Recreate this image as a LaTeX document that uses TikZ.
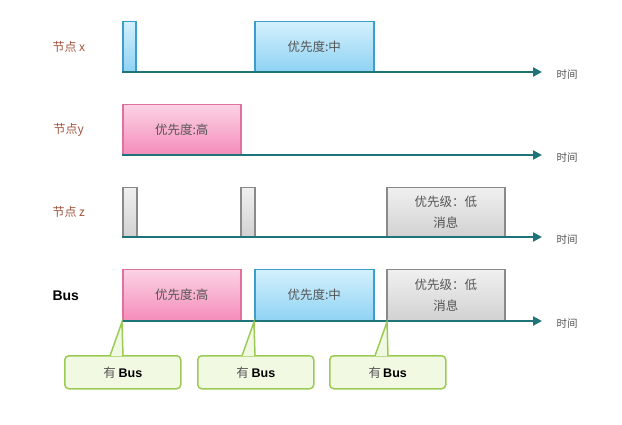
\documentclass[tikz,border=0pt]{standalone}
\usepackage{fontspec}
\setmainfont{Noto Sans CJK SC}
\newfontfamily\latinbold{Liberation Sans}
\usetikzlibrary{arrows.meta}
\definecolor{axisc}{HTML}{1E7478}
\definecolor{blueT}{HTML}{D4F0FC}
\definecolor{blueB}{HTML}{8FD3F4}
\definecolor{blueD}{HTML}{3C9ECB}
\definecolor{pinkT}{HTML}{FBD3E5}
\definecolor{pinkB}{HTML}{F58DBA}
\definecolor{pinkD}{HTML}{E0709E}
\definecolor{grayT}{HTML}{F0F0F0}
\definecolor{grayB}{HTML}{D2D2D2}
\definecolor{grayD}{HTML}{8A8A8A}
\definecolor{callF}{HTML}{F1F9E3}
\definecolor{callD}{HTML}{9CCB55}
\definecolor{labc}{HTML}{A0533E}
\definecolor{txtg}{HTML}{555555}
\begin{document}
\begin{tikzpicture}[x=1pt,y=-1pt,
  box/.style={draw, line width=1.5pt, inner sep=0pt, anchor=south west, align=center,
    font=\fontsize{12.5}{21}\selectfont, text=txtg},
  bluebox/.style={box, top color=blueT, bottom color=blueB, draw=blueD},
  pinkbox/.style={box, top color=pinkT, bottom color=pinkB, draw=pinkD},
  graybox/.style={box, top color=grayT, bottom color=grayB, draw=grayD},
  axisline/.style={draw=axisc, line width=2.4pt, -{Triangle[length=9pt,width=9pt]}},
  timelab/.style={font=\fontsize{10.5}{12}\selectfont, text=txtg},
  rowlab/.style={font=\fontsize{12}{14}\selectfont, text=labc, anchor=west},
  callbox/.style={draw=callD, fill=callF, line width=1.5pt, rounded corners=4pt,
    minimum width=116pt, minimum height=33pt, anchor=north west, inner sep=0pt,
    font=\fontsize{12.5}{14}\selectfont},
  pointer/.style={draw=callD, line width=1.5pt}
]
\useasboundingbox (0,0) rectangle (622,424);

% ---- row x ----
\node[rowlab] (lx) at (49,47) {节点 x};
\node[bluebox, minimum width=13pt, minimum height=50pt] (x1) at (122,72) {};
\node[bluebox, minimum width=119pt, minimum height=50pt] (x2) at (254,72) {优先度:中};
\coordinate (xa) at (122,72);
\coordinate (xe) at (542,72);
\draw[axisline] (xa) -- (xe);
\node[timelab] (xt) at (567,75) {时间};

% ---- row y ----
\node[rowlab] (ly) at (50,130) {节点y};
\node[pinkbox, minimum width=118pt, minimum height=50pt] (y1) at (122,155) {优先度:高};
\coordinate (ya) at (122,155);
\coordinate (ye) at (542,155);
\draw[axisline] (ya) -- (ye);
\node[timelab] (yt) at (567,158) {时间};

% ---- row z ----
\node[rowlab] (lz) at (49,212) {节点 z};
\node[graybox, minimum width=14pt, minimum height=49pt] (z1) at (122,237) {};
\node[graybox, minimum width=14pt, minimum height=49pt] (z2) at (240,237) {};
\node[graybox, minimum width=118pt, minimum height=49pt] (z3) at (386,237) {优先级：低\\消息};
\coordinate (za) at (122,237);
\coordinate (ze) at (542,237);
\draw[axisline] (za) -- (ze);
\node[timelab] (zt) at (567,240) {时间};

% ---- Bus ----
\node[anchor=west, font=\latinbold\bfseries\fontsize{14}{16}\selectfont] (lb) at (49,296) {Bus};
\node[pinkbox, minimum width=118pt, minimum height=51pt] (b1) at (122,321) {优先度:高};
\node[bluebox, minimum width=119pt, minimum height=51pt] (b2) at (254,321) {优先度:中};
\node[graybox, minimum width=118pt, minimum height=51pt] (b3) at (386,321) {优先级：低\\消息};
\coordinate (ba) at (122,321);
\coordinate (be) at (542,321);
\draw[axisline] (ba) -- (be);
\node[timelab] (bt) at (567,324) {时间};

% ---- callouts ----
\node[callbox] (c1) at (64,355) {\textcolor{txtg}{有}\ {\latinbold\bfseries Bus}};
\node[callbox] (c2) at (197,355) {\textcolor{txtg}{有}\ {\latinbold\bfseries Bus}};
\node[callbox] (c3) at (329,355) {\textcolor{txtg}{有}\,{\latinbold\bfseries Bus}};

\coordinate (p1) at (122,322); \coordinate (p1l) at (110,355.8); \coordinate (p1r) at (123,355.8);
\coordinate (p2) at (254,322); \coordinate (p2l) at (242,355.8); \coordinate (p2r) at (255,355.8);
\coordinate (p3) at (387,322); \coordinate (p3l) at (375,355.8); \coordinate (p3r) at (388,355.8);
\foreach \i in {1,2,3} {
  \fill[callF] (p\i l) -- (p\i) -- (p\i r) -- cycle;
  \draw[pointer] (p\i l) -- (p\i) -- (p\i r);
}
\end{tikzpicture}
\end{document}
